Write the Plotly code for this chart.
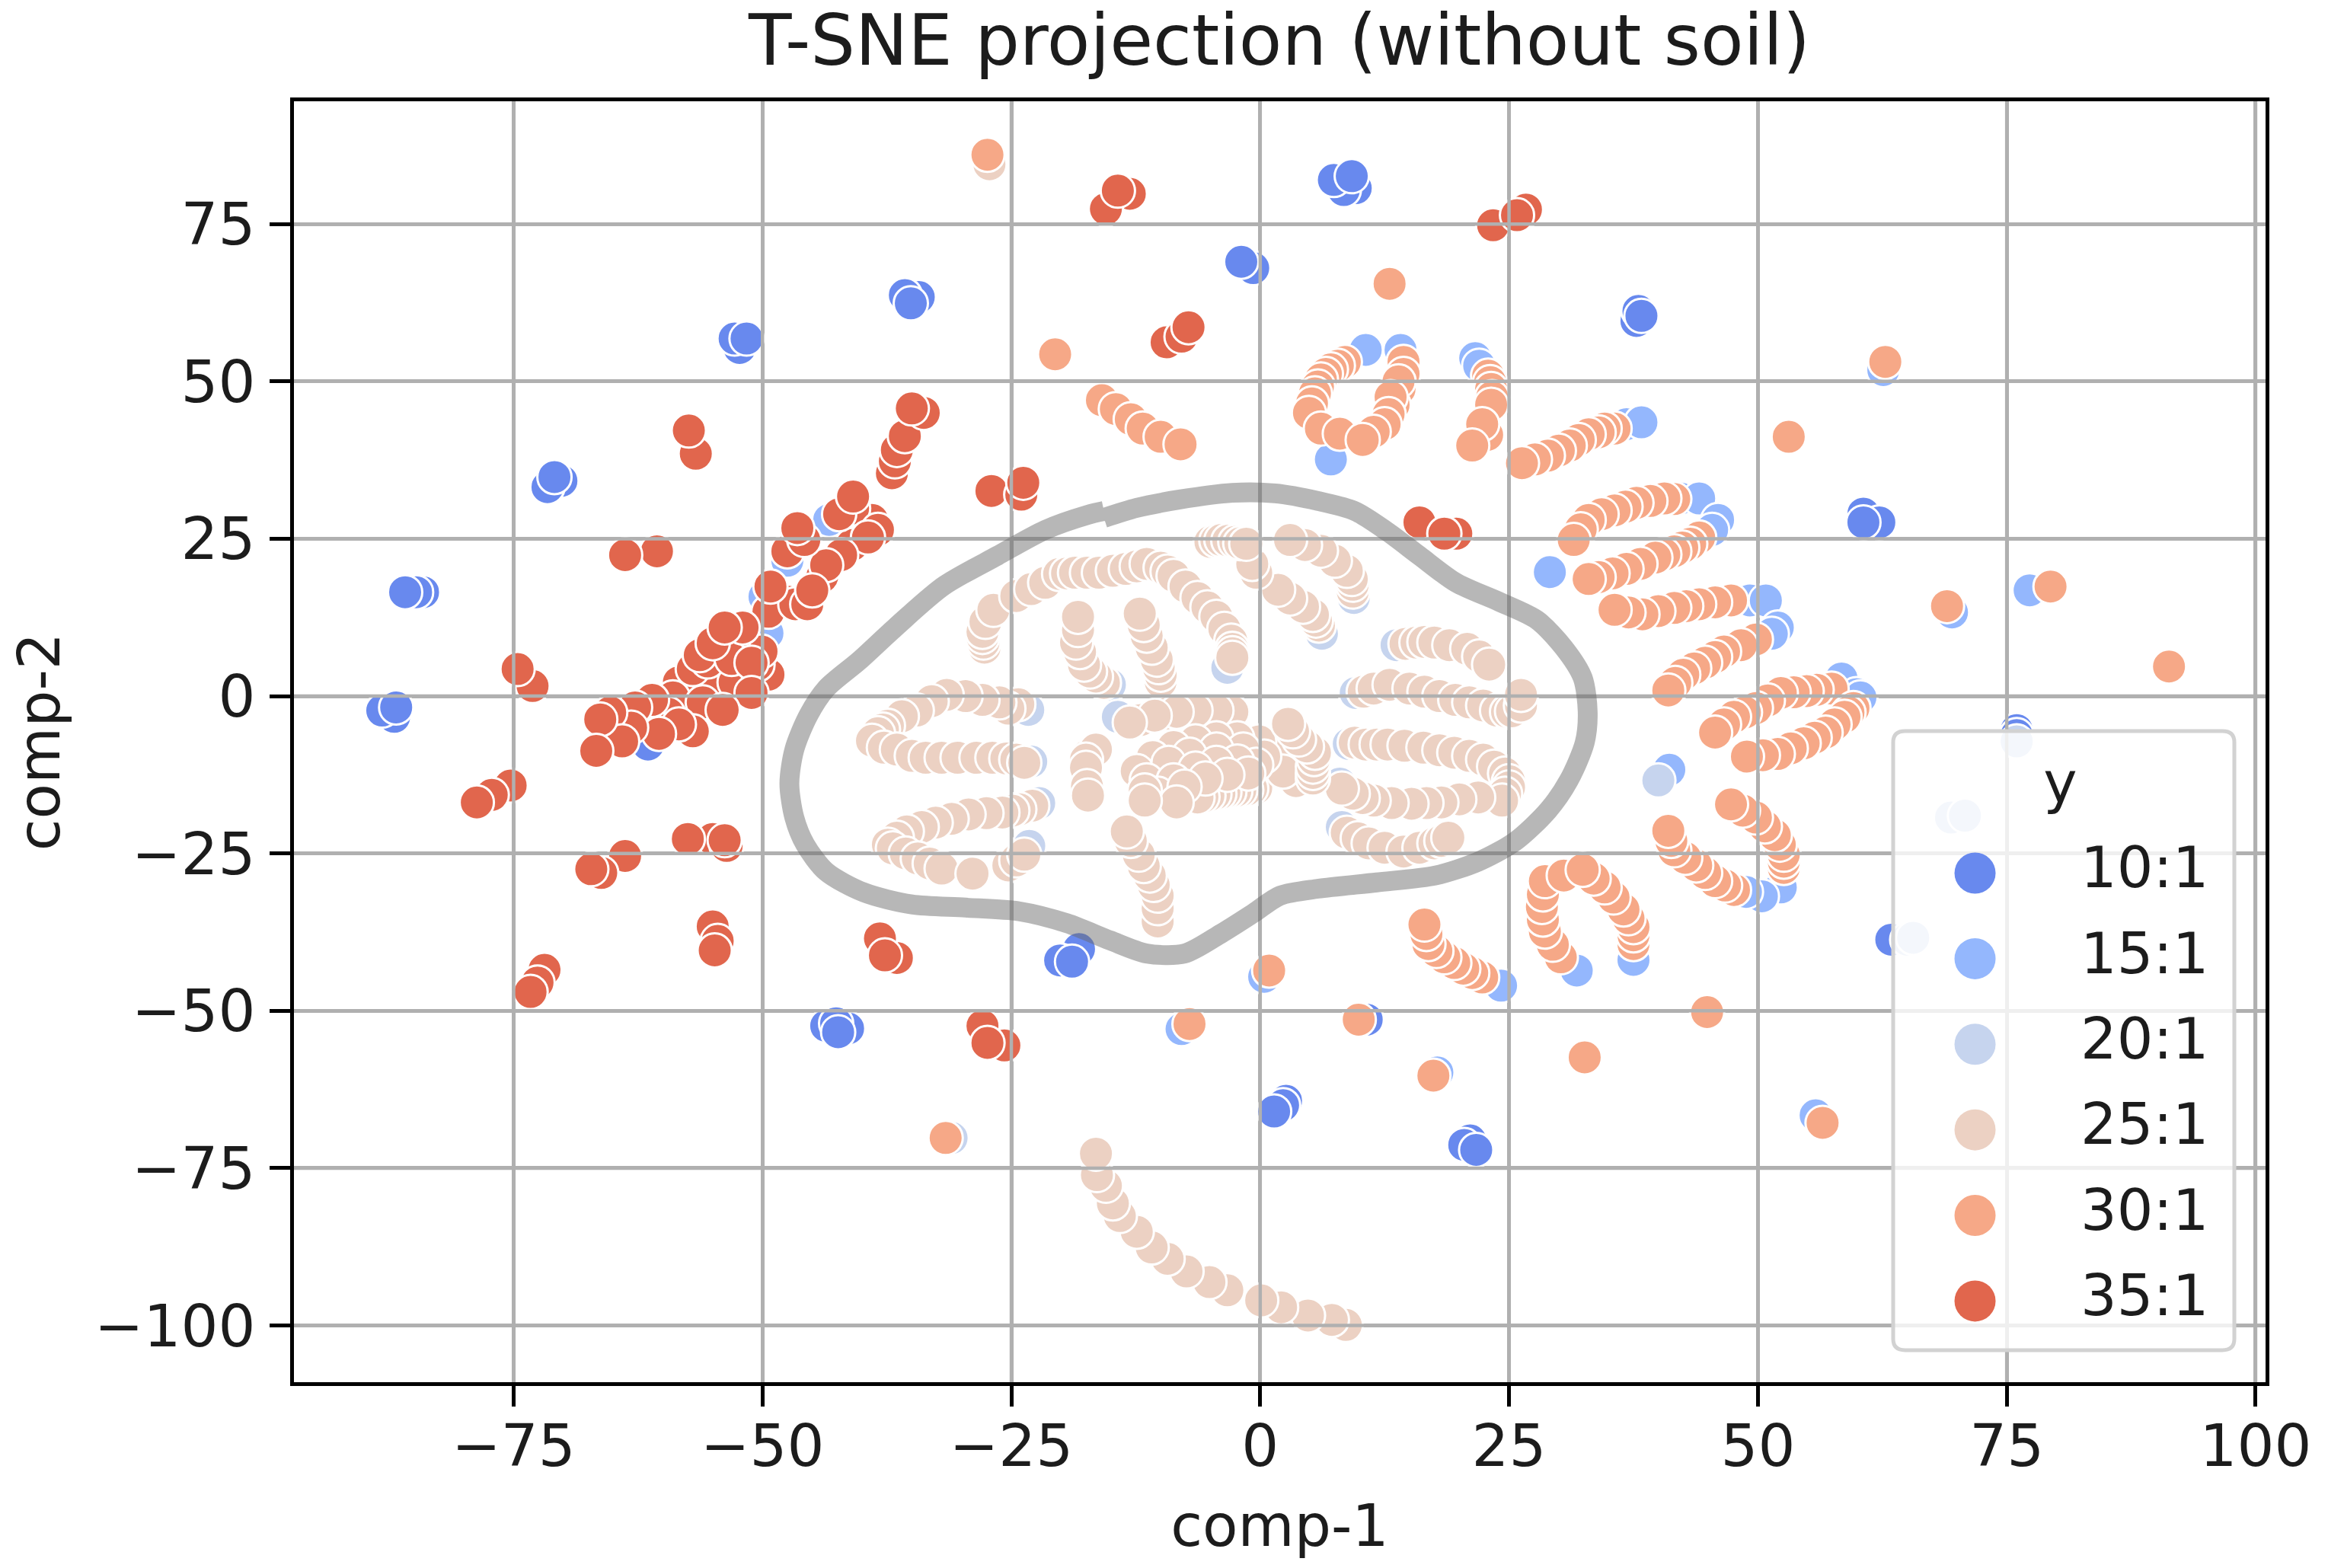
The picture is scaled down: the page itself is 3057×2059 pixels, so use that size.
import plotly.graph_objects as go

title = "T-SNE projection (without soil)"
labels = ["10:1", "15:1", "20:1", "25:1", "30:1", "35:1"]
colors = ["#6889ee", "#94b7fd", "#c6d4ee", "#ecd1c3", "#f6a887", "#e1664d"]
x_ticks = [-75, -50, -25, 0, 25, 50, 75, 100]
y_ticks = [-100, -75, -50, -25, 0, 25, 50, 75]

x_10 = [9.6, 8.4, 7.4, 9.2, -0.7, -1.9, 37.8, 38.0, 38.3, -34.3, -35.7, -35.1, -52.3, -52.8, -51.6, -70.2, -71.6, -70.9,
        -84.1, -84.8, -85.9, -87.0, -88.2, -86.8, 60.6, 62.2, 60.6, 76.0, 76.0, 63.4, 21.1, 20.5, 21.7, 2.6, 2.3, 1.4,
        -18.2, -20.1, -18.9, -41.4, -43.6, -42.6, -42.4, 10.7, -61.5]
y_10 = [80.7, 80.4, 82.0, 82.6, 68.0, 69.0, 59.6, 61.2, 60.4, 63.4, 63.7, 62.4, 55.3, 56.8, 56.8, 34.2, 33.2, 34.8,
        16.5, 16.5, 16.5, -3.3, -2.3, -1.8, 29.0, 27.6, 27.6, -5.4, -6.2, -38.7, -70.6, -71.3, -72.1, -64.3, -65.0, -66.0,
        -40.2, -42.0, -42.2, -52.8, -52.4, -52.0, -53.4, -51.4, -7.7]

x_15 = [10.6, 14.1, 7.1, 21.6, 22.0, 36.8, 38.3, 42.2, 44.1, 46.0, 45.4, 29.1, 49.2, 50.8, 52.0, 51.4, 58.4, 59.9,
        60.3, 77.3, 41.1, 52.3, 50.4, 48.8, 31.8, 37.5, 24.2, 0.4, -43.3, -47.5, -49.8, -49.5, 62.6, 69.5, -7.9, 17.8, 55.8]
y_15 = [55.0, 55.0, 37.6, 53.7, 52.5, 43.2, 43.5, 31.4, 31.4, 28.0, 26.4, 19.7, 15.2, 15.2, 10.9, 9.9, 2.8, 0.3,
        -0.2, 16.8, -11.7, -30.4, -31.8, -31.1, -43.6, -41.9, -46.0, -44.6, 28.0, 21.5, 15.8, 10.0, 51.8, 13.3, -52.9, -59.8, -66.6]

x_20 = [-3.3, -15.1, 6.2, 9.4, 13.7, 9.6, 8.9, 8.0, 8.2, -23.3, -23.0, -22.2, -23.2, -14.3, 40.0, 65.0, 65.6, 69.4, 70.8, 76.0, -31.0]
y_20 = [4.5, 1.8, 9.9, 15.6, 8.1, 0.5, -7.6, -13.9, -20.8, -2.2, -10.4, -17.0, -23.8, -3.3, -13.4, -38.7, -38.4, -19.3, -19.0, -7.2, -70.2]

x_25 = [-27.7, -27.8, -27.9, -27.9, -27.6, -26.8, -24.5, -23.0, -21.6, -20.2, -19.4, -18.6, -17.4, -16.2, -14.8, -13.5, -12.4, -11.4, -10.0, -9.3, -8.7, -7.5, -6.3, -5.3, -4.4, -3.6, -2.9, -2.8, -2.8, -2.8,
        -15.7, -16.5, -17.1, -17.7, -18.1, -18.5, -18.3, -18.3, -10.0, -10.0, -10.2, -10.4, -10.9, -11.4, -11.7, -12.1,
        5.9, 5.6, 5.3, 4.3, 3.0, 1.8, -0.4, -0.8, -5.0, -4.4, -3.9, -3.2, -2.5, -2.0, -1.4, 9.3, 9.3, 9.2, 8.7, 7.5, 6.1, 4.5, 3.0,
        14.6, 15.7, 16.5, 17.5, 19.0, 20.8, 22.0, 23.0, 10.4, 11.4, 13.0, 15.0, 16.5, 18.0, 19.6, 21.0, 22.4, 23.8, 24.8, 25.3, 26.2, 26.2,
        9.5, 10.6, 11.7, 12.8, 14.5, 16.4, 18.0, 19.5, 21.0, 22.4, 23.5, 24.6, 25.0, 25.0, 24.6, 24.3, 21.9, 20.0, 18.2, 16.7, 15.2, 13.2, 11.4, 10.3, 9.3, 8.2,
        8.7, 9.8, 10.9, 12.5, 14.4, 16.0, 17.5, 18.2, 18.9,
        -24.3, -25.3, -26.2, -27.9, -29.6, -31.5, -33.0, -34.5, -36.0, -37.4, -37.9, -38.4, -39.0, -37.8, -36.5, -35.0, -33.6, -32.0, -30.4, -28.5, -26.9, -25.5, -24.5, -23.7,
        -22.9, -24.2, -24.9, -25.9, -27.5, -29.3, -31.0, -32.6, -34.0, -35.5, -36.5, -37.4, -36.9, -35.6, -34.4, -33.2, -32.0, -28.9, -25.3, -24.5, -23.7,
        -3.6, -5.5, -7.4, -9.5, -12.0, -2.8, -4.4, -6.5, -8.4, -10.6, -13.1,
        -17.2, -16.5, -17.5, -17.5, -17.4, -17.3,
        3.6, 2.8, 1.5, -0.1, -2.3, -4.4, -6.5, -8.7, -10.8, -12.4,
        -0.4, -0.9, -1.4, -2.0, -2.5, -3.1, -3.6, -4.1, -4.6, -5.2, -5.8, -6.3, 2.3, 0.4, -1.7, -4.4, -7.1, -9.2, -11.4,
        -0.4, -2.3, -4.4, -6.5, -8.7, -10.3, -1.2, -3.3, -5.5, -7.6, -8.4, -11.6, -11.6,
        5.3, 5.3, 5.3, 5.4, 5.5, 4.7, 3.9, 3.3, 2.8, -10.3, -10.3, -10.3, -10.7, -11.1, -11.7, -12.2, -13.0, -13.4,
        8.6, 7.2, 4.8, 2.1, 0.1, -3.3, -5.1, -7.4, -9.3, -10.9, -12.4, -14.1, -14.8, -15.5, -16.4, -16.5, -27.2]
y_25 = [7.7, 8.5, 9.4, 10.2, 11.8, 13.7, 15.9, 17.0, 18.0, 19.4, 19.5, 19.6, 19.6, 19.6, 19.9, 20.2, 20.6, 21.0, 20.4, 19.8, 19.1, 17.4, 15.6, 14.1, 12.6, 10.7, 8.8, 7.5, 6.8, 6.1,
        2.1, 3.1, 3.9, 5.0, 7.0, 8.5, 10.5, 12.6, 2.3, 3.4, 4.6, 5.8, 7.7, 9.6, 11.3, 13.1,
        11.2, 12.0, 12.9, 14.2, 15.5, 16.9, 19.6, 21.0, 24.5, 24.7, 24.8, 24.7, 24.5, 24.3, 24.2, 16.6, 17.7, 18.6, 19.9, 21.5, 23.1, 24.0, 24.8,
        8.3, 8.5, 8.6, 8.5, 8.1, 7.5, 6.3, 5.0, 0.7, 1.2, 1.8, 1.2, 0.7, 0.0, -0.6, -1.0, -1.5, -2.3, -2.5, -2.4, -1.5, 0.2,
        -7.4, -7.7, -7.7, -7.7, -7.9, -8.2, -8.6, -9.0, -9.5, -10.1, -11.2, -12.3, -13.5, -14.5, -15.5, -16.6, -16.1, -16.4, -16.9, -17.0, -17.1, -17.0, -16.6, -16.2, -15.5, -14.7,
        -21.7, -22.6, -23.4, -24.1, -24.7, -24.1, -23.4, -23.0, -22.5,
        -1.3, -2.0, -1.0, -0.6, 0.0, 0.2, -0.8, -2.3, -3.2, -4.7, -5.3, -5.9, -7.1, -8.2, -8.5, -9.5, -9.8, -9.8, -9.8, -9.8, -9.8, -9.9, -10.1, -10.6,
        -17.4, -18.0, -18.2, -18.5, -18.6, -18.8, -19.5, -20.1, -20.8, -21.5, -22.5, -23.6, -24.2, -25.0, -25.8, -26.6, -27.4, -28.2, -26.9, -26.1, -25.2,
        -2.3, -2.3, -2.4, -2.8, -3.8, -2.5, -2.3, -2.3, -2.5, -3.1, -4.2,
        -9.3, -8.5, -10.1, -11.4, -14.3, -15.8,
        -13.5, -10.8, -8.6, -7.2, -6.7, -6.7, -7.2, -8.1, -9.7, -11.9,
        -14.6, -14.7, -14.9, -15.0, -15.1, -15.2, -15.3, -15.5, -15.6, -15.8, -16.0, -16.1, -12.0, -9.6, -8.5, -8.5, -9.3, -10.6, -13.4,
        -10.9, -10.4, -10.6, -11.5, -13.4, -15.5, -12.3, -12.5, -13.1, -14.4, -16.9, -15.0, -16.6,
        -13.1, -12.2, -11.2, -10.0, -9.0, -8.0, -6.9, -5.6, -4.4, -35.8, -33.7, -31.7, -30.0, -28.5, -27.0, -25.2, -23.0, -21.5,
        -99.9, -99.1, -98.4, -97.1, -96.0, -94.4, -93.1, -91.4, -89.4, -87.6, -85.1, -82.6, -80.6, -77.8, -76.1, -72.7, 84.5]

x_30 = [-27.4, -20.6, -15.9, -14.5, -13.0, -11.8, -10.0, -8.0, 13.0, 62.8,
        14.4, 14.4, 14.0, 13.9, 13.4, 13.1, 12.9, 12.5, 11.4, 8.5, 7.8, 7.1, 6.6, 6.1, 5.8, 5.5, 5.2, 4.9, 6.1, 8.0, 10.3,
        22.9, 23.1, 23.2, 23.3, 23.2, 22.8, 22.3, 21.3, 35.6, 34.6, 34.0, 33.0, 32.0, 31.1, 30.0, 28.9, 27.6, 26.3, 53.1,
        41.6, 40.6, 39.2, 37.8, 36.7, 35.6, 34.3, 33.0, 32.2, 31.5, 44.1, 43.2, 42.4, 41.6, 40.6, 39.7, 38.2, 36.8, 35.4, 34.0, 33.0,
        47.3, 45.7, 44.1, 42.8, 41.6, 40.0, 38.4, 37.0, 35.6, 49.8, 48.3, 46.6, 45.7, 44.7, 43.6, 42.5, 41.7, 41.0,
        57.4, 55.9, 54.9, 53.6, 52.3, 51.0, 49.8, 48.7, 47.6, 46.6, 45.7, 59.6, 59.1, 58.7, 57.7, 56.8, 55.7, 54.6, 53.3, 52.0, 50.5, 48.9,
        52.6, 52.6, 52.6, 52.2, 51.7, 50.7, 49.8, 48.5, 47.3, 47.6, 46.7, 45.7, 44.7, 43.8, 42.7, 41.6, 41.3, 41.0,
        37.5, 37.5, 37.5, 37.0, 36.5, 35.5, 34.6, 33.5, 30.2, 29.4, 28.6, 28.4, 28.3, 28.4, 28.6, 30.5, 32.4,
        22.3, 21.3, 20.4, 19.5, 18.5, 17.7, 16.9, 16.7, 16.5, 79.4, 69.0, 91.3, 44.9, 9.9, 17.4, 32.6, 56.5, 0.9, -7.1, -31.6]
y_30 = [86.0, 54.3, 47.0, 45.6, 44.0, 42.5, 41.2, 40.0, 65.5, 53.1,
        53.1, 51.2, 48.8, 50.0, 46.3, 47.5, 44.8, 43.2, 42.0, 53.1, 52.5, 51.9, 51.2, 50.3, 49.2, 48.1, 46.5, 45.0, 42.5, 41.7, 40.7,
        50.9, 49.9, 48.8, 47.5, 46.3, 41.5, 43.2, 39.8, 42.5, 42.5, 41.9, 41.6, 40.7, 39.8, 39.0, 38.2, 37.6, 37.0, 41.2,
        31.3, 31.4, 31.0, 30.7, 30.1, 29.5, 28.9, 28.0, 26.5, 24.8, 25.2, 24.2, 23.6, 23.0, 22.5, 22.0, 21.0, 20.2, 19.5, 18.9, 18.6,
        15.2, 14.9, 14.6, 14.3, 14.0, 13.5, 13.0, 13.3, 13.7, 9.0, 8.1, 7.1, 6.2, 5.3, 4.4, 3.4, 2.1, 0.9,
        1.2, 1.0, 0.8, 0.6, 0.5, -0.7, -1.9, -2.6, -3.3, -4.5, -5.8, -1.9, -2.6, -3.3, -4.5, -5.8, -6.6, -7.5, -8.3, -9.2, -9.4, -9.6,
        -27.3, -26.3, -25.2, -23.6, -22.1, -20.7, -19.3, -18.2, -17.2, -30.8, -30.1, -29.4, -28.1, -26.9, -25.7, -24.5, -23.0, -21.4,
        -39.4, -38.0, -36.7, -35.3, -33.9, -32.0, -30.4, -29.0, -41.5, -39.5, -37.4, -35.5, -33.5, -31.5, -29.4, -28.5, -27.6,
        -44.7, -44.0, -43.3, -42.4, -41.5, -40.5, -39.4, -37.8, -36.3, 17.4, 14.3, 4.7, -50.2, -51.4, -60.3, -57.4, -67.8, -43.6, -52.1, -70.2]

x_35 = [-13.1, -15.5, -14.3, -9.4, -7.9, -7.2, 23.4, 26.7, 25.8, 16.0, 19.7, 18.5,
        -56.7, -57.4, -73.1, -74.6, -60.6, -63.8, -27.0, -24.0, -23.8,
        -37.0, -36.7, -36.5, -35.7, -33.8, -35.0,
        -39.0, -41.0, -40.9, -42.3, -40.9, -38.4, -39.4, -42.1, -44.0, -43.6, -47.5, -45.8, -46.5,
        -47.5, -49.4, -46.7, -45.5, -45.0, -49.2,
        -50.8, -51.4, -49.4, -50.5, -50.1, -54.5, -52.8, -58.4, -57.0, -55.5, -56.3, -53.0, -53.1, -51.1, -55.0, -52.0, -53.8,
        -51.1, -59.0, -59.5, -61.5, -56.0, -54.0, -57.0, -58.4, -60.4, -61.1, -62.8, -63.2, -65.3, -64.1, -66.3, -66.7,
        -75.3, -77.2, -78.7, -63.8, -66.2, -67.2, -55.0, -53.6, -53.8, -57.5,
        -55.0, -54.5, -54.8, -71.9, -72.6, -73.3, -36.5, -38.2, -37.7, -25.7, -27.9, -27.4]
y_35 = [79.8, 77.4, 80.3, 56.2, 57.1, 58.6, 74.8, 77.3, 76.4, 27.6, 25.8, 25.8,
        38.5, 42.2, 1.6, 4.3, 23.0, 22.4, 32.6, 32.0, 33.9,
        35.4, 37.3, 39.1, 41.3, 45.0, 45.7,
        28.0, 24.0, 29.8, 28.9, 31.7, 26.4, 25.2, 22.4, 19.0, 20.8, 23.0, 24.8, 26.7,
        15.0, 13.4, 14.6, 14.6, 16.8, 17.4,
        3.0, 1.6, 3.4, 5.0, 7.1, 2.2, 2.2, 2.2, 4.3, 5.5, 6.5, 8.5, 5.9, 5.3, 8.4, 10.9, 10.9,
        0.5, -0.2, -2.8, -3.5, -1.0, -2.2, -5.6, -4.5, -6.0, -0.6, -1.8, -5.0, -2.6, -7.2, -3.7, -8.7,
        -14.2, -15.7, -16.9, -25.4, -28.1, -27.5, -22.7, -23.8, -22.9, -22.7,
        -36.6, -38.9, -40.4, -43.5, -45.5, -47.0, -41.6, -38.5, -41.2, -55.5, -52.4, -55.1]

curve_x = [-15.7, -12.4, -8.2, -2.8, 1.5, 5.8, 9.5, 12.8, 16.0, 19.7, 24.0, 27.8, 30.5, 32.4, 32.9, 32.6, 31.0, 28.9,
           25.6, 21.9, 17.6, 11.7, 5.8, 2.0, -0.6, -3.9, -7.6, -11.4, -15.1, -19.4, -24.2, -29.6, -35.0, -39.8,
           -43.6, -45.7, -46.8, -47.3, -46.8, -45.4, -43.6, -40.3, -36.6, -31.8, -26.4, -21.6, -17.3, -15.7]
curve_y = [28.3, 29.9, 31.2, 32.3, 32.2, 31.0, 29.4, 26.1, 22.3, 18.0, 15.0, 12.1, 7.7, 2.9, -2.5, -7.4, -13.4, -18.2,
           -23.1, -26.3, -28.5, -29.6, -30.6, -31.7, -34.4, -37.7, -40.9, -40.9, -38.8, -36.1, -34.2, -33.6, -33.1, -31.2,
           -27.9, -23.6, -19.3, -13.9, -8.5, -3.1, 1.2, 5.6, 11.0, 17.5, 22.3, 26.4, 28.8, 29.4]

series_x = [x_10, x_15, x_20, x_25, x_30, x_35]
series_y = [y_10, y_15, y_20, y_25, y_30, y_35]
for a, b in zip(series_x, series_y):
    assert len(a) == len(b), (len(a), len(b))

X_RANGE = [-97.07, 101.0]
Y_RANGE = [-109.0, 94.5]
INK = "#1c1c1c"
FONT = "DejaVu Sans"
GRID = "#b0b0b0"

fig = go.Figure()
for name, c, xs, ys in zip(labels, colors, series_x, series_y):
    fig.add_trace(go.Scatter(x=xs, y=ys, mode="markers", name=name, showlegend=False,
                             marker=dict(size=45, color=c, line=dict(color="white", width=3))))

gx, gy = [], []
for t in x_ticks:
    gx += [t, t, None]
    gy += Y_RANGE + [None]
for t in y_ticks:
    gx += X_RANGE + [None]
    gy += [t, t, None]
fig.add_trace(go.Scatter(x=gx, y=gy, mode="lines", line=dict(color=GRID, width=4.5),
                         showlegend=False, hoverinfo="skip"))

fig.add_trace(go.Scatter(x=curve_x, y=curve_y, mode="lines", showlegend=False, hoverinfo="skip",
                         line=dict(color="rgba(105,105,105,0.48)", width=26, shape="spline", smoothing=0.8)))

rows = ["y"] + labels
fig.add_trace(go.Scatter(x=[0.24] * 6, y=labels, xaxis="x2", yaxis="y2", mode="markers", showlegend=False,
                         hoverinfo="skip", marker=dict(size=54, color=colors, line=dict(width=0))))
fig.add_trace(go.Scatter(x=[0.925] * 6, y=labels, xaxis="x2", yaxis="y2", mode="text", text=labels,
                         textposition="middle left", showlegend=False, hoverinfo="skip",
                         textfont=dict(family=FONT, size=75, color=INK)))
fig.add_trace(go.Scatter(x=[0.49], y=["y"], xaxis="x2", yaxis="y2", mode="text", text=["y"],
                         textposition="middle center", showlegend=False, hoverinfo="skip",
                         textfont=dict(family=FONT, size=75, color=INK)))

W, H = 3057, 2059
L, R, T, B = 386, 2975, 133, 1815
lx0, lx1, ly0, ly1 = 2486, 2934, 960, 1773

axis = dict(showline=True, linecolor="black", linewidth=5, mirror=True, ticks="outside", ticklen=27, tickwidth=5,
            tickcolor="black", showgrid=True, gridcolor=GRID, gridwidth=4.5, zeroline=False,
            tickfont=dict(family=FONT, size=77, color=INK))
panel = dict(showline=False, showgrid=False, zeroline=False, showticklabels=False, ticks="", fixedrange=True)

rx, ry = 0.035, 0.018
outline = (f"M {rx},0 L {1-rx},0 Q 1,0 1,{ry} L 1,{1-ry} Q 1,1 {1-rx},1 "
           f"L {rx},1 Q 0,1 0,{1-ry} L 0,{ry} Q 0,0 {rx},0 Z")

fig.update_layout(
    width=W, height=H, margin=dict(l=L, r=W - R, t=T, b=H - B, pad=0),
    paper_bgcolor="white", plot_bgcolor="rgba(255,255,255,0.8)", showlegend=False,
    title=dict(text=title, x=1680 / W, xanchor="center", y=1 - 53 / H, yanchor="middle",
               font=dict(family=FONT, size=92.5, color=INK)),
    xaxis=dict(axis, range=X_RANGE, tickvals=x_ticks, domain=[0, 1], ticklabelstandoff=-14,
               title=dict(text="comp-1", font=dict(family=FONT, size=76, color=INK), standoff=36)),
    yaxis=dict(axis, range=Y_RANGE, tickvals=y_ticks, domain=[0, 1], ticklabelstandoff=3,
               title=dict(text="comp-2", font=dict(family=FONT, size=76, color=INK), standoff=22)),
    xaxis2=dict(panel, anchor="y2", range=[0, 1],
                domain=[(lx0 - L) / (R - L), (lx1 - L) / (R - L)]),
    yaxis2=dict(panel, anchor="x2", type="category", categoryorder="array", categoryarray=rows,
                range=[6.575, -0.66], domain=[(B - ly1) / (B - T), (B - ly0) / (B - T)]),
    shapes=[dict(type="path", path=outline, xref="x2 domain", yref="y2 domain",
                 line=dict(color="#d2d2d2", width=5), fillcolor="rgba(0,0,0,0)", layer="above")],
)

fig.write_html("out.html", config={"displayModeBar": False}, post_script="document.body.style.margin='0';")
